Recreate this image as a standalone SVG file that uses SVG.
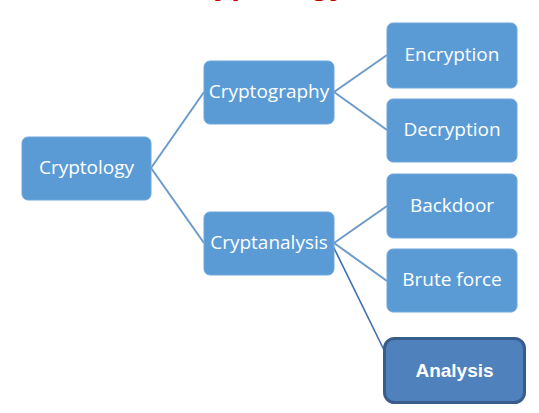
<svg xmlns="http://www.w3.org/2000/svg" width="539" height="413" viewBox="0 0 539 413">
<style>
.node{fill:#5B9BD5;stroke:#6FA6DB;stroke-width:1}
.lbl{font-family:"Open Sans","Liberation Sans",sans-serif;font-size:19px;fill:#FFFFFF;text-anchor:middle}
.conn{stroke:#6C9AC9;stroke-width:2;fill:none}
</style>
<rect width="539" height="413" fill="#FFFFFF"/>
<text x="178" y="-6.5" font-family="Liberation Sans, Arial, sans-serif" font-size="32" font-weight="bold" fill="#C00000">Cryptology</text>
<g id="connectors">
<line class="conn" x1="151" y1="168" x2="204" y2="92"/>
<line class="conn" x1="151" y1="168" x2="204" y2="243"/>
<line class="conn" x1="334" y1="92" x2="387" y2="55"/>
<line class="conn" x1="334" y1="92" x2="387" y2="130"/>
<line class="conn" x1="334" y1="243" x2="387" y2="206"/>
<line class="conn" x1="334" y1="243" x2="387" y2="281"/>
<line x1="333" y1="246" x2="384" y2="350" stroke="#3F6DB0" stroke-width="1.6"/>
</g>
<g id="cryptology">
<rect class="node" x="22" y="137" width="129" height="63" rx="6"/>
<text class="lbl" x="86.5" y="174">Cryptology</text>
</g>
<g id="cryptography">
<rect class="node" x="204" y="61" width="130" height="63" rx="6"/>
<text class="lbl" x="269" y="98">Cryptography</text>
</g>
<g id="cryptanalysis">
<rect class="node" x="204" y="212" width="130" height="63" rx="6"/>
<text class="lbl" x="269" y="249">Cryptanalysis</text>
</g>
<g id="encryption">
<rect class="node" x="387" y="23" width="130" height="65" rx="6"/>
<text class="lbl" x="452" y="61">Encryption</text>
</g>
<g id="decryption">
<rect class="node" x="387" y="99" width="130" height="63" rx="6"/>
<text class="lbl" x="452" y="136">Decryption</text>
</g>
<g id="backdoor">
<rect class="node" x="387" y="174" width="130" height="64" rx="6"/>
<text class="lbl" x="452" y="212">Backdoor</text>
</g>
<g id="bruteforce">
<rect class="node" x="387" y="249" width="130" height="63" rx="6"/>
<text class="lbl" x="452" y="286">Brute force</text>
</g>
<g id="analysis">
<rect x="384.5" y="338.5" width="140" height="64" rx="10" fill="#4F81BD" stroke="#385D8A" stroke-width="3"/>
<text x="454.5" y="377" font-family="Liberation Sans, Arial, sans-serif" font-size="19" font-weight="bold" fill="#FFFFFF" text-anchor="middle">Analysis</text>
</g>
</svg>
